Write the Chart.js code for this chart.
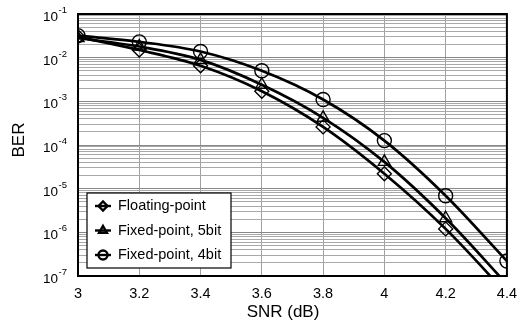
<!DOCTYPE html>
<html>
<head>
<meta charset="utf-8">
<script src="https://cdn.jsdelivr.net/npm/chart.js@4"></script>
<style>
  html, body { margin: 0; padding: 0; background: #fff; }
  #wrap { width: 526px; height: 324px; }
</style>
</head>
<body>
<div id="wrap"><canvas id="ber-chart"></canvas></div>
<script>
const snr = [3, 3.2, 3.4, 3.6, 3.8, 4, 4.2, 4.4];
const floatingBer = [0.030, 0.015, 0.0065, 0.0017, 2.6e-4, 2.2e-5, 1.2e-6, 3.9e-8];
const fixed5Ber = [0.028, 0.018, 0.0089, 0.0024, 4.2e-4, 4.1e-5, 2.1e-6, 6.5e-8];
const fixed4Ber = [0.032, 0.023, 0.0138, 0.0050, 1.1e-3, 1.26e-4, 6.9e-6, 2.2e-7];
const xTicks = [3, 3.2, 3.4, 3.6, 3.8, 4, 4.2, 4.4];
const decades = [-7, -6, -5, -4, -3, -2, -1];
const xTitle = "SNR (dB)";
const yTitle = "BER";

const yMin = 1e-7;
const yMax = 1e-1;
const font = "'Liberation Sans', Arial, sans-serif";

function toPoints(ys) {
  return snr.map((x, i) => ({ x: x, y: ys[i] }));
}

function series(label, ys, style) {
  return {
    label: label,
    data: toPoints(ys),
    borderColor: "#000",
    borderWidth: 2.7,
    backgroundColor: "rgba(0,0,0,0)",
    pointStyle: style,
    pointRadius: (ctx) => (ctx.raw && ctx.raw.y < yMin ? 0 : 7),
    pointBorderWidth: 1.4,
    pointBorderColor: "#000",
    pointBackgroundColor: "rgba(0,0,0,0)",
    cubicInterpolationMode: "monotone",
  };
}

// y labels as 10 with a raised exponent, axis titles, heavy frame, legend box inside the plot
const framePlugin = {
  id: "frameAndLegend",
  afterDraw(chart) {
    const ctx = chart.ctx;
    const a = chart.chartArea;
    const yScale = chart.scales.y;
    ctx.save();

    ctx.fillStyle = "#000";
    ctx.textBaseline = "alphabetic";
    decades.forEach((e) => {
      const y = yScale.getPixelForValue(Math.pow(10, e));
      const exp = String(e);
      ctx.font = "9.5px " + font;
      const ew = ctx.measureText(exp).width;
      ctx.textAlign = "left";
      ctx.fillText(exp, 67 - ew, y - 1);
      ctx.font = "13.5px " + font;
      ctx.textAlign = "right";
      ctx.fillText("10", 67 - ew - 0.5, y + 7);
    });

    ctx.font = "17px " + font;
    ctx.textAlign = "center";
    ctx.textBaseline = "middle";
    ctx.fillText(xTitle, 283, 312);
    ctx.save();
    ctx.translate(19, 140);
    ctx.rotate(-Math.PI / 2);
    ctx.fillText(yTitle, 0, 0);
    ctx.restore();

    ctx.strokeStyle = "#000";
    ctx.lineWidth = 2;
    ctx.strokeRect(a.left, a.top, a.right - a.left, a.bottom - a.top);

    const bx = 87, by = 193, bw = 144, bh = 75;
    ctx.fillStyle = "#fff";
    ctx.fillRect(bx, by, bw, bh);
    ctx.lineWidth = 1.2;
    ctx.strokeRect(bx, by, bw, bh);

    chart.data.datasets.forEach((ds, i) => {
      const y = 206 + i * 24.5;
      ctx.strokeStyle = "#000";
      ctx.lineWidth = 2.4;
      ctx.beginPath();
      ctx.moveTo(95, y);
      ctx.lineTo(111, y);
      ctx.stroke();
      ctx.fillStyle = "rgba(0,0,0,0)";
      Chart.helpers.drawPoint(ctx, { pointStyle: ds.pointStyle, radius: 4.5, borderWidth: 1.4, rotation: 0 }, 103, y);
      ctx.fillStyle = "#000";
      ctx.font = "14.5px " + font;
      ctx.textBaseline = "middle";
      ctx.textAlign = "left";
      ctx.fillText(ds.label, 118, y);
    });
    ctx.restore();
  },
};

new Chart(document.getElementById("ber-chart"), {
  type: "line",
  data: {
    datasets: [
      series("Floating-point", floatingBer, "rectRot"),
      series("Fixed-point, 5bit", fixed5Ber, "triangle"),
      series("Fixed-point, 4bit", fixed4Ber, "circle"),
    ],
  },
  options: {
    responsive: true,
    maintainAspectRatio: false,
    animation: false,
    layout: { padding: { top: 14, right: 19, left: 0, bottom: 0 } },
    plugins: {
      legend: { display: false },
      tooltip: { enabled: false },
    },
    scales: {
      x: {
        type: "linear",
        min: 3,
        max: 4.4,
        afterBuildTicks: (scale) => {
          scale.ticks = xTicks.map((v) => ({ value: v }));
        },
        afterFit: (scale) => {
          scale.height = 48;
        },
        ticks: {
          color: "#000",
          font: { family: font, size: 14.5 },
          padding: 9,
          callback: (v) => String(Number(v.toFixed(1))),
        },
        grid: { color: "#a0a0a0", lineWidth: 1, drawTicks: false },
        border: { display: false },
      },
      y: {
        type: "logarithmic",
        min: yMin,
        max: yMax,
        afterBuildTicks: (scale) => {
          const t = [];
          decades.forEach((e) => {
            for (let k = 1; k <= 9; k++) {
              if (e === -1 && k > 1) break;
              t.push({ value: k * Math.pow(10, e), major: k === 1 });
            }
          });
          scale.ticks = t;
        },
        afterFit: (scale) => {
          scale.width = 78;
        },
        ticks: { display: false, autoSkip: false },
        grid: {
          color: (ctx) => (ctx.tick && ctx.tick.major ? "#888" : "#a8a8a8"),
          lineWidth: 1,
          drawTicks: false,
        },
        border: { display: false },
      },
    },
  },
  plugins: [framePlugin],
});
</script>
</body>
</html>
